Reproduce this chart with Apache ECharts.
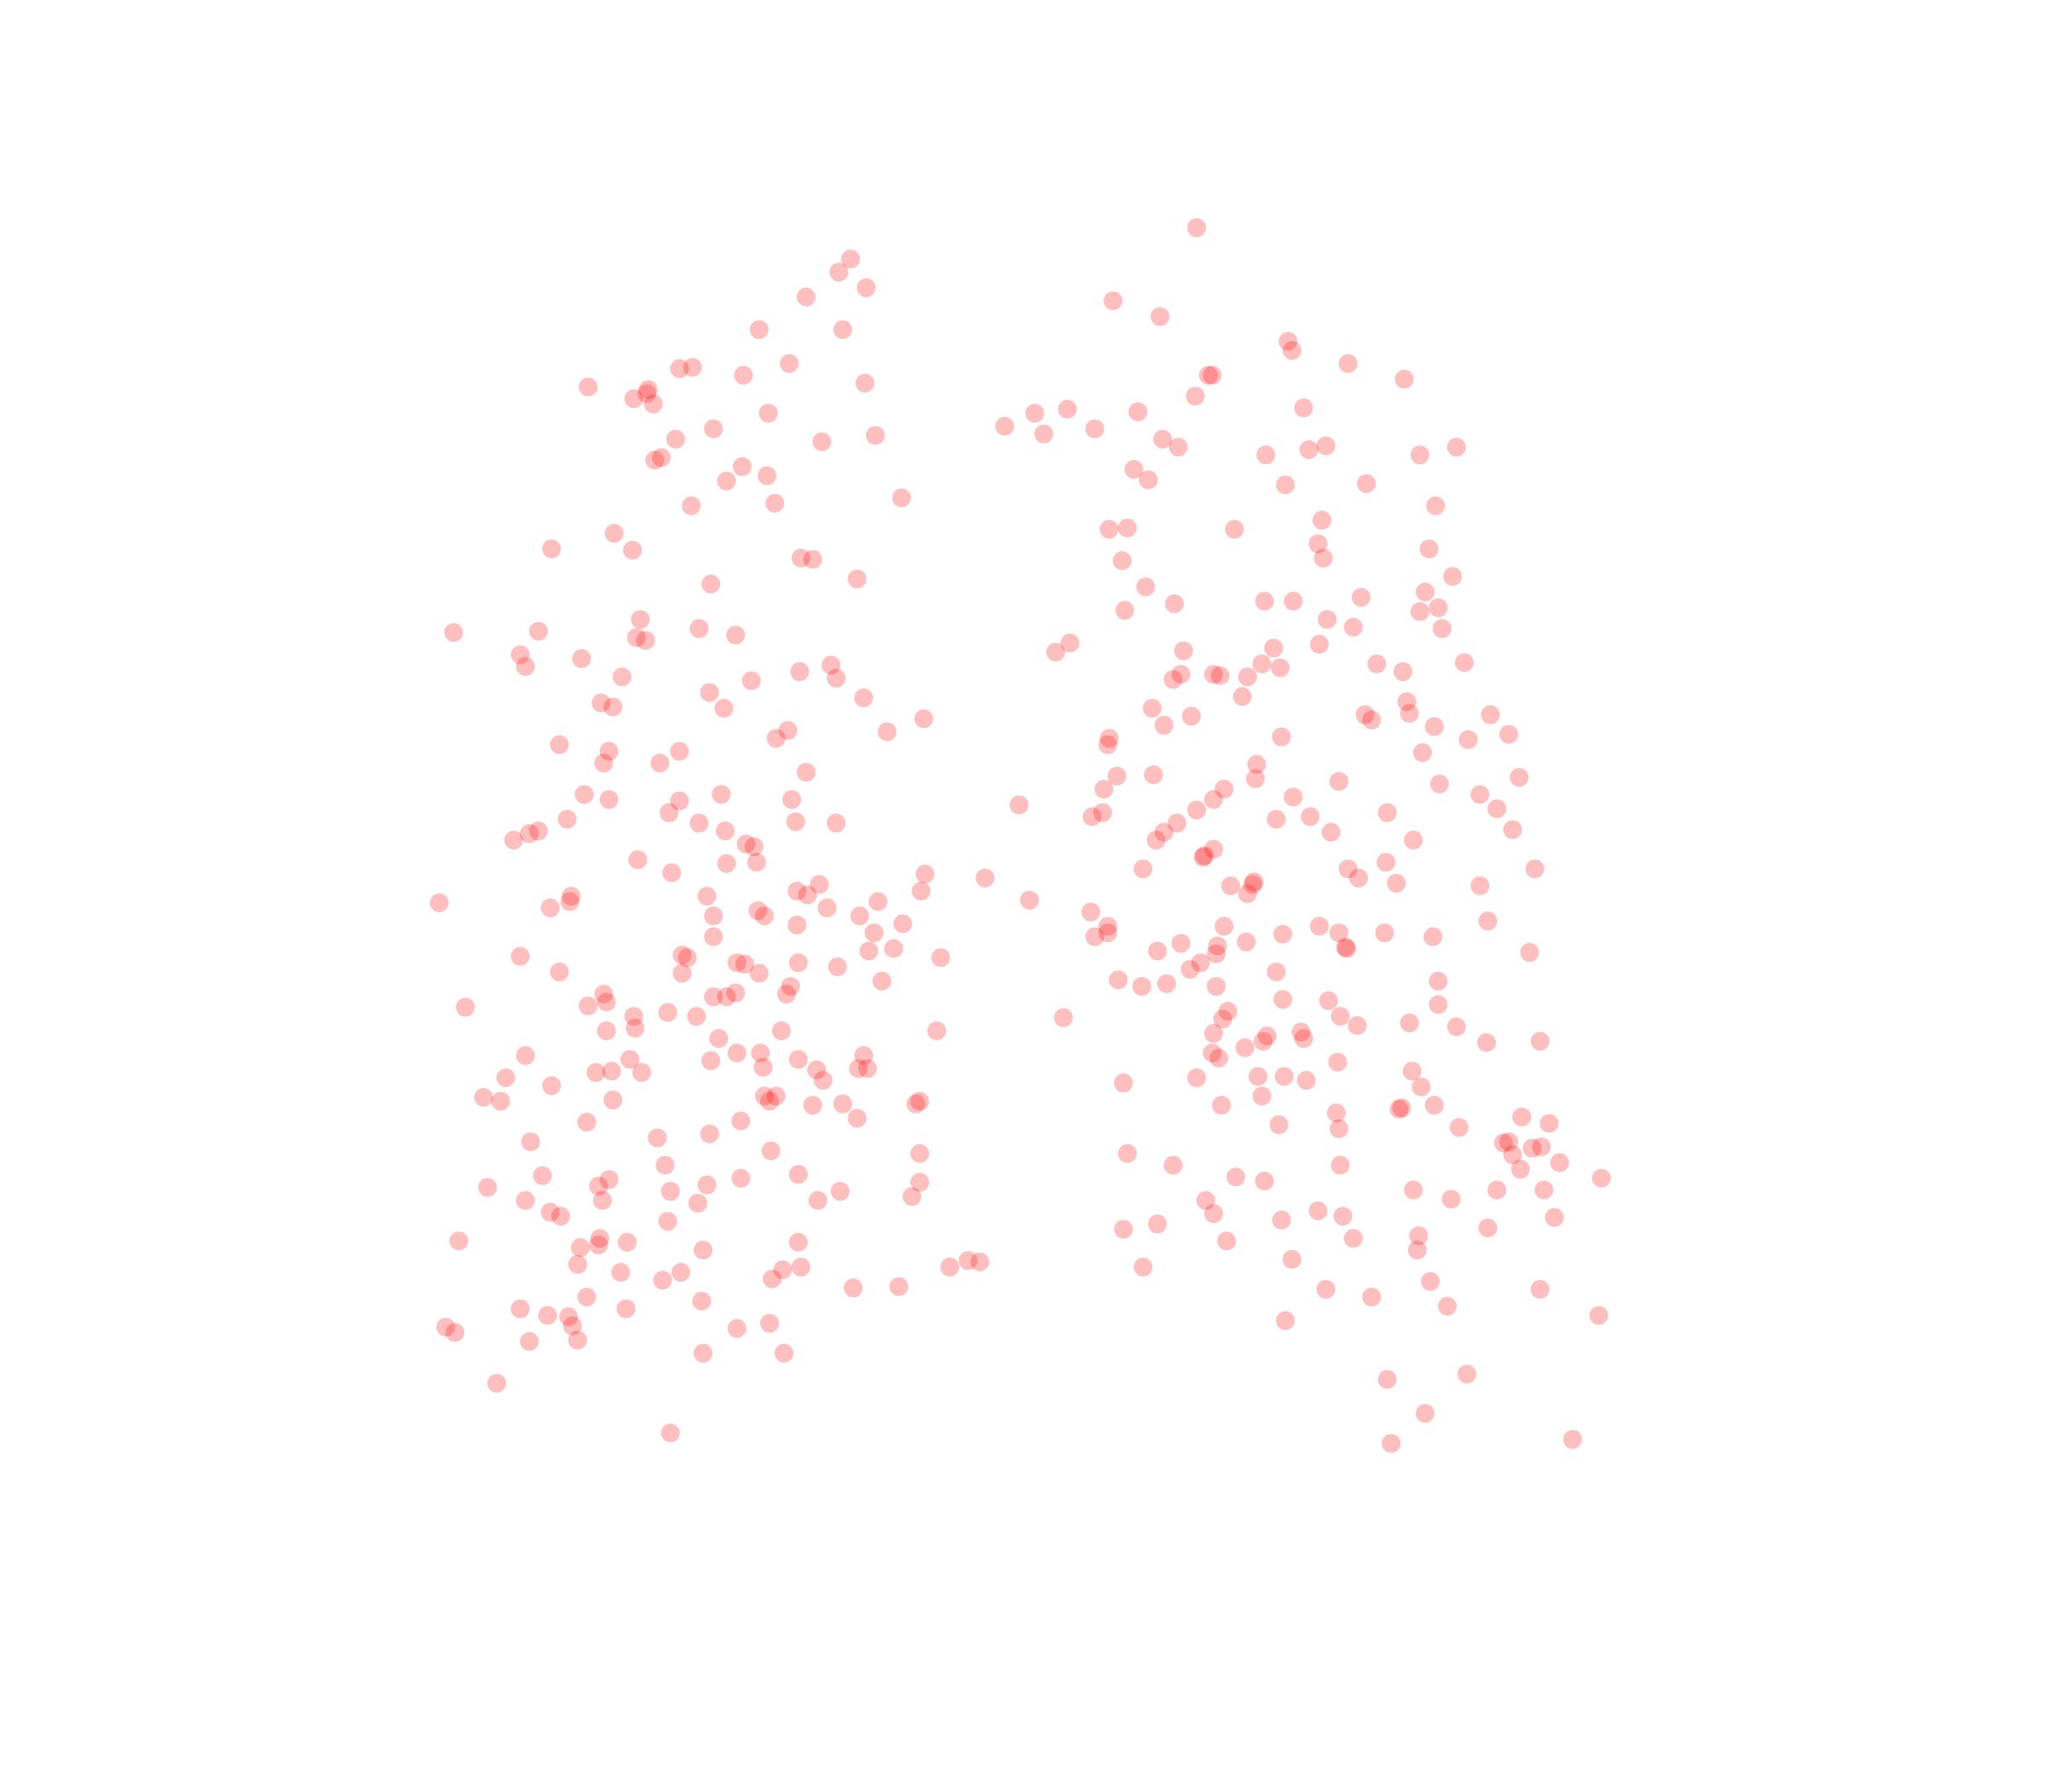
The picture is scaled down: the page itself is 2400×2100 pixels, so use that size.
<!DOCTYPE html>
<html><head><meta charset="utf-8">
<style>html,body{margin:0;padding:0;background:#fff}#c{width:2400px;height:2100px}</style>
<script src="https://cdn.jsdelivr.net/npm/echarts@6/dist/echarts.min.js"></script>
</head><body><div id="c"></div>
<script>
const leftGroup = [[651,198],[642,208],[663,220],[617,227],[581,252],[645,252],[604,278],[520,282],[530,281],[569,287],[450,296],[662,293],[496,298],[495,301],[485,305],[500,309],[588,316],[546,328],[670,333],[517,336],[629,338],[501,352],[506,350],[568,357],[587,364],[556,368],[690,381],[593,385],[529,387],[470,408],[422,420],[484,421],[613,427],[622,428],[656,443],[544,447],[490,474],[412,483],[347,484],[535,481],[563,486],[487,488],[494,490],[398,501],[402,510],[445,504],[636,509],[612,514],[640,519],[476,518],[575,521],[543,530],[661,534],[460,538],[469,541],[554,542],[707,550],[603,559],[594,565],[679,560],[428,570],[466,575],[520,575],[462,584],[505,584],[617,591],[447,608],[466,612],[552,608],[520,613],[606,612],[512,622],[434,627],[535,630],[609,629],[640,630],[555,636],[412,636],[405,638],[393,643],[571,646],[577,648],[488,658],[556,661],[579,660],[514,668],[708,669],[627,677],[705,682],[610,682],[618,685],[541,686],[437,686],[436,690],[672,690],[336,691],[421,695],[633,695],[580,697],[585,701],[546,701],[658,701],[691,707],[610,708],[669,714],[546,717],[684,726],[665,728],[522,731],[526,733],[398,732],[720,733],[564,737],[570,738],[611,737],[641,740],[428,744],[522,745],[581,745],[675,751],[605,755],[462,761],[464,767],[546,763],[556,763],[563,760],[602,761],[356,771],[450,770],[511,775],[533,778],[485,778],[486,787],[464,789],[598,789],[717,789],[550,795],[402,808],[482,811],[564,806],[582,806],[611,811],[661,808],[544,812],[584,817],[657,818],[664,818],[456,821],[468,820],[491,821],[387,825],[625,819],[630,827],[422,831],[585,839],[594,839],[589,843],[370,840],[383,843],[469,842],[622,846],[645,845],[701,845],[704,843],[656,856],[449,859],[567,858],[543,868],[503,871],[406,874],[704,883],[590,881],[509,892],[415,900],[611,899],[466,903],[704,905],[373,909],[458,908],[541,907],[567,902],[513,912],[643,912],[402,919],[461,919],[534,921],[626,919],[698,916],[421,928],[429,931],[511,935],[351,950],[459,948],[458,953],[480,951],[444,955],[611,951],[538,957],[442,968],[475,974],[521,974],[599,972],[613,970],[591,979],[507,980],[727,970],[741,965],[750,966],[653,986],[688,985],[449,993],[537,996],[398,1002],[479,1002],[419,1007],[435,1008],[438,1015],[341,1016],[348,1020],[564,1017],[589,1013],[405,1027],[442,1026],[538,1036],[600,1036],[380,1059],[513,1097]];
const rightGroup = [[916,174],[852,230],[888,242],[986,261],[989,268],[1032,278],[1075,290],[925,287],[928,287],[915,303],[998,312],[769,326],[792,316],[817,313],[799,332],[838,328],[871,315],[890,336],[902,342],[1015,341],[1002,344],[969,348],[1087,348],[1115,342],[868,359],[879,367],[984,371],[1046,370],[1099,387],[1012,398],[849,405],[863,404],[945,405],[1009,416],[1094,420],[859,429],[1013,427],[1112,441],[877,449],[1091,453],[1042,457],[899,462],[968,460],[990,460],[861,467],[1087,468],[1101,465],[1016,474],[1036,480],[1104,481],[819,492],[808,499],[1010,493],[975,496],[906,498],[1121,507],[1054,508],[966,508],[980,511],[904,516],[929,516],[934,517],[955,518],[898,520],[1074,514],[951,533],[882,542],[1077,537],[1079,546],[1045,547],[1050,551],[1141,547],[912,548],[891,555],[1098,556],[1155,562],[1124,566],[849,565],[848,570],[981,564],[1089,576],[962,585],[855,594],[883,593],[961,596],[1025,598],[1102,600],[1163,595],[845,604],[937,604],[1133,608],[990,610],[929,612],[1146,619],[780,616],[916,620],[844,622],[836,625],[977,627],[1003,625],[1062,622],[901,630],[1158,635],[1019,637],[891,637],[885,643],[1082,643],[929,650],[921,656],[922,655],[1061,660],[875,665],[1032,665],[1175,665],[1040,672],[754,672],[1069,676],[1133,678],[942,678],[960,675],[959,677],[955,684],[788,689],[835,698],[1139,705],[848,709],[848,714],[838,717],[937,709],[1010,709],[982,715],[1025,714],[1060,714],[1097,717],[954,721],[904,722],[932,724],[886,728],[931,730],[1030,725],[1031,726],[1171,729],[919,737],[911,742],[977,744],[856,750],[874,755],[893,753],[931,755],[1101,751],[982,765],[1017,766],[1101,769],[940,774],[1026,778],[936,780],[814,779],[1039,785],[1079,783],[1115,786],[929,791],[996,790],[998,795],[970,793],[967,797],[953,802],[1138,798],[1179,797],[928,806],[933,810],[1024,813],[916,825],[963,824],[983,824],[1000,827],[860,829],[1081,820],[1088,832],[966,839],[935,846],[1098,846],[1073,848],[1071,849],[1023,852],[1165,855],[1186,860],[979,861],[1025,864],[1117,863],[1151,875],[1155,874],[1173,879],[1180,878],[1158,884],[863,883],[1194,890],[898,892],[1026,892],[1164,895],[946,901],[968,904],[1226,902],[1146,911],[1182,911],[1082,911],[1111,918],[923,919],[1009,927],[929,929],[1028,931],[981,934],[1190,932],[886,937],[860,941],[1139,940],[1086,946],[1036,948],[939,950],[1085,957],[989,964],[875,970],[1095,981],[1015,987],[1179,987],[1050,993],[1108,1000],[984,1011],[1224,1007],[1123,1052],[1062,1056],[1091,1082],[1065,1105],[1204,1102]];
const allPoints = leftGroup.concat(rightGroup);
const chart = echarts.init(document.getElementById('c'), null, {renderer:'canvas'});
chart.setOption({
  animation:false,
  backgroundColor:'#ffffff',
  grid:{left:0.6,right:-0.6,top:0.6,bottom:-0.6},
  xAxis:{type:'value',min:0,max:1568,show:false},
  yAxis:{type:'value',min:0,max:1372,inverse:true,show:false},
  series:[{
    type:'scatter',
    data:allPoints,
    symbol:'circle',
    symbolSize:22,
    itemStyle:{color:'#ff0000',opacity:0.25,borderWidth:0},
    emphasis:{disabled:true}
  }]
});
</script></body></html>
